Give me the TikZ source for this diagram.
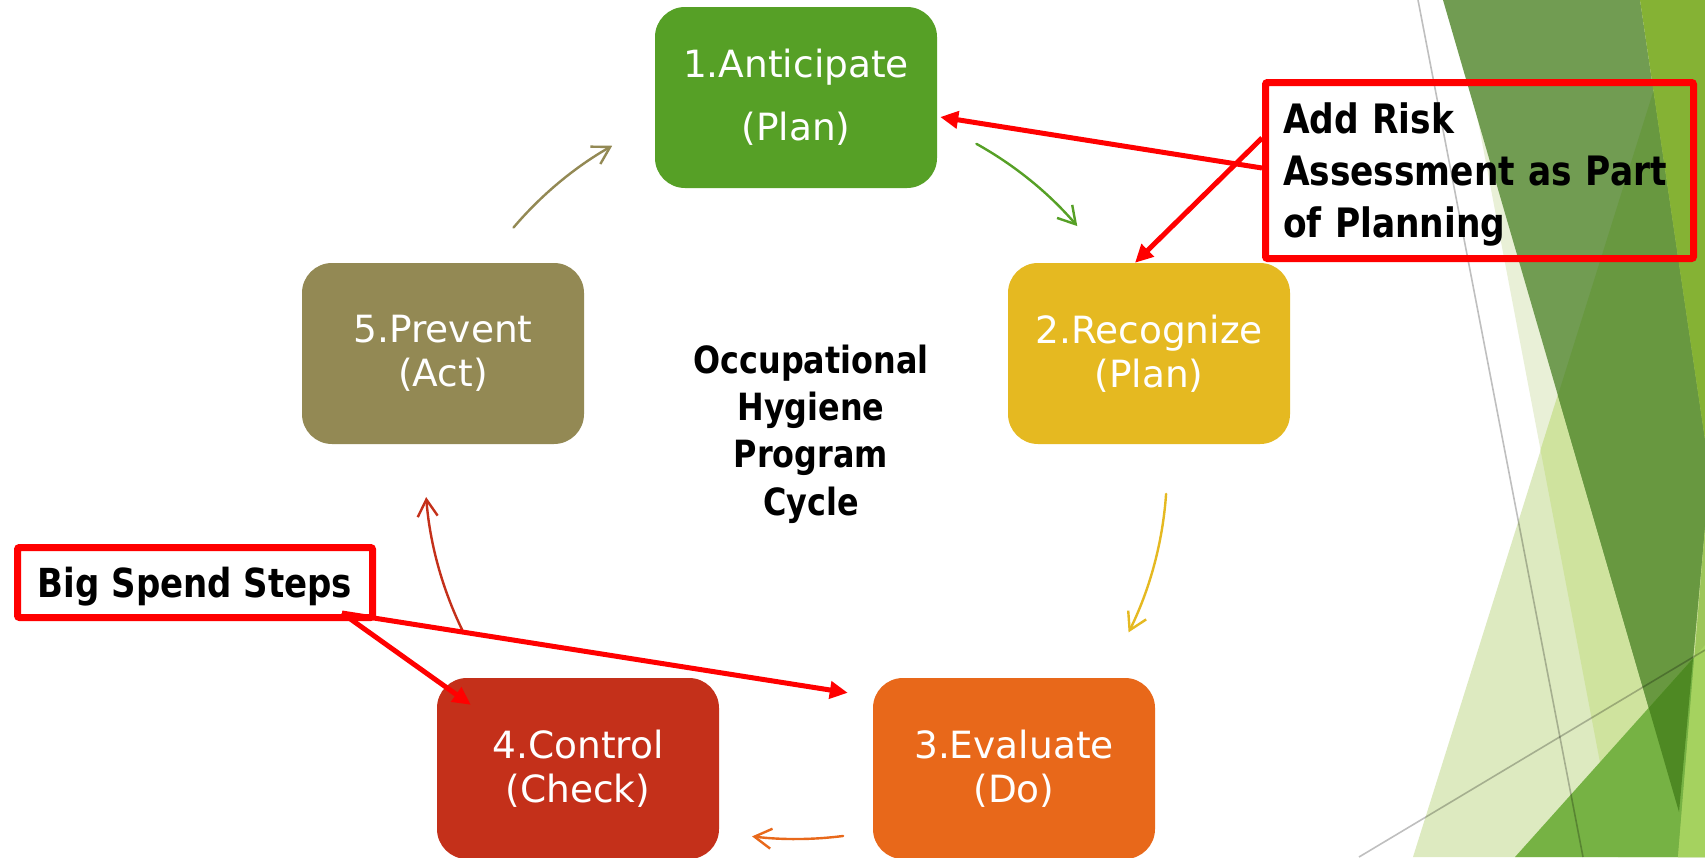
\documentclass[tikz,border=0pt]{standalone}
\usepackage{fontspec}
\setmainfont{DejaVu Sans}
\newfontfamily\narrowbold{DejaVu Sans}[FakeStretch=0.85]
\usetikzlibrary{arrows.meta}
\definecolor{cGreen}{RGB}{86,160,38}
\definecolor{cYellow}{RGB}{229,185,33}
\definecolor{cOrange}{RGB}{232,104,26}
\definecolor{cRed}{RGB}{196,48,26}
\definecolor{cOlive}{RGB}{147,137,84}
\definecolor{dTa}{RGB}{221,234,192}
\definecolor{dTb}{RGB}{233,240,215}
\definecolor{dTab}{RGB}{207,227,158}
\definecolor{dDa}{RGB}{113,156,82}
\definecolor{dDb}{RGB}{104,152,64}
\definecolor{dTR}{RGB}{133,178,52}
\definecolor{dBR}{RGB}{157,198,90}
\definecolor{dBRm}{RGB}{165,210,95}
\definecolor{dMid}{RGB}{118,178,68}
\definecolor{dDeep}{RGB}{78,137,35}
\begin{document}
\begin{tikzpicture}[x=1pt,y=-1pt,
  box/.style={rounded corners=30pt, minimum width=282pt, minimum height=181pt,
    inner sep=0pt, text=white, align=center, font=\fontsize{37.5}{44}\selectfont},
  cyc/.style={line width=2.4pt, line cap=round, -{Straight Barb[length=17pt,width=20pt]}},
  redarr/.style={draw=red, line width=5pt, -{Triangle[length=18pt,width=17pt]}},
  redbox/.style={draw=red, line width=7pt, rounded corners=2pt, inner sep=0pt},
  titletext/.style={font=\narrowbold\bfseries\fontsize{37.5}{47.3}\selectfont, align=center},
  deco/.style={draw=black, draw opacity=0.25, line width=1.6pt}
]
\useasboundingbox (0,0) rectangle (1705,857);
\fill[white] (0,0) rectangle (1705,857);
% right decoration
\fill[dTb] (1455,0) -- (1705,0) -- (1705,857) -- (1618,857) -- cycle;
\fill[dTa] (1682,0) -- (1705,0) -- (1705,857) -- (1413,857) -- cycle;
\fill[dTab] (1540.5,450) -- (1618,857) -- (1705,857) -- (1705,0) -- (1682,0) -- cycle;
\fill[dDa] (1443,0) -- (1640,0) -- (1705,440) -- (1705,527) -- (1679,812) -- cycle;
\begin{scope}
  \clip (1682,0) -- (1705,0) -- (1705,857) -- (1413,857) -- cycle;
  \fill[dDb] (1443,0) -- (1640,0) -- (1705,440) -- (1705,527) -- (1679,812) -- cycle;
\end{scope}
\fill[dTR] (1640,0) -- (1705,0) -- (1705,440) -- cycle;
\fill[dMid] (1515,857) -- (1705,645) -- (1705,857) -- cycle;
\begin{scope}
  \clip (1515,857) -- (1705,645) -- (1705,857) -- cycle;
  \fill[dDeep] (1443,0) -- (1640,0) -- (1705,440) -- (1705,527) -- (1679,812) -- cycle;
\end{scope}
\fill[dBR] (1705,527) -- (1705,857) -- (1678,857) -- cycle;
\begin{scope}
  \clip (1515,857) -- (1705,645) -- (1705,857) -- cycle;
  \fill[dBRm] (1705,527) -- (1705,857) -- (1678,857) -- cycle;
\end{scope}
\draw[deco] (1418,0) -- (1583,857);
\draw[deco] (1359,857) -- (1705,650);

% boxes
\node[box, fill=cGreen]  (b1) at (796,97.5)  {1.Anticipate\\[19pt](Plan)};
\node[box, fill=cYellow] (b2) at (1149,353.5) {2.Recognize\\(Plan)};
\node[box, fill=cOrange] (b3) at (1014,768.5) {3.Evaluate\\(Do)};
\node[box, fill=cRed]    (b4) at (578,768.5)  {4.Control\\(Check)};
\node[box, fill=cOlive]  (b5) at (443,353.5)  {5.Prevent\\(Act)};
\node[titletext] (ttl) at (811,434) {Occupational\\Hygiene\\Program\\Cycle};

% cycle arrows
\coordinate (ctr) at (796,468);
\path (ctr) ++(139.6:371pt) coordinate (s51);
\path (ctr) ++(60.9:371pt) coordinate (s12);
\path (ctr) ++(-4.0:371pt) coordinate (s23);
\path (ctr) ++(-82.7:371pt) coordinate (s34);
\path (ctr) ++(205.9:371pt) coordinate (s45);
\draw[cyc, draw=cOlive]  (s51) arc[start angle=139.6, end angle=119.7, radius=371pt];
\draw[cyc, draw=cGreen]  (s12) arc[start angle=60.9, end angle=40.7, radius=371pt];
\draw[cyc, draw=cYellow] (s23) arc[start angle=-4.0, end angle=-26.3, radius=371pt];
\draw[cyc, draw=cOrange] (s34) arc[start angle=-82.7, end angle=-96.8, radius=371pt];
\draw[cyc, draw=cRed]    (s45) arc[start angle=205.9, end angle=184.5, radius=371pt];

% annotations
\node[redbox, minimum width=428pt, minimum height=176pt, text width=393pt, align=left,
  inner xsep=17.5pt, font=\narrowbold\bfseries\fontsize{40.5}{52}\selectfont]
  (risk) at (1479.5,170.5) {\rule{0pt}{38.7pt}Add Risk\\Assessment as Part\\of Planning};
\node[redbox, minimum width=355pt, minimum height=70pt,
  font=\narrowbold\bfseries\fontsize{40}{48}\selectfont]
  (spend) at (195,582.5) {\rule{0pt}{38.4pt}Big Spend Steps};

\draw[redarr] ([yshift=2.5pt]risk.west) -- ([xshift=3pt,yshift=-19.5pt]b1.east);
\draw[redarr] ([yshift=32.5pt]risk.west) -- ([xshift=-14pt]b2.north);
\draw[redarr] ([xshift=-34pt,yshift=8pt]spend.south east) -- ([xshift=34pt,yshift=-27pt]b4.north west);
\draw[redarr] ([xshift=-34pt,yshift=8pt]spend.south east) -- ([xshift=-25pt,yshift=-15pt]b3.north west);
\end{tikzpicture}
\end{document}
